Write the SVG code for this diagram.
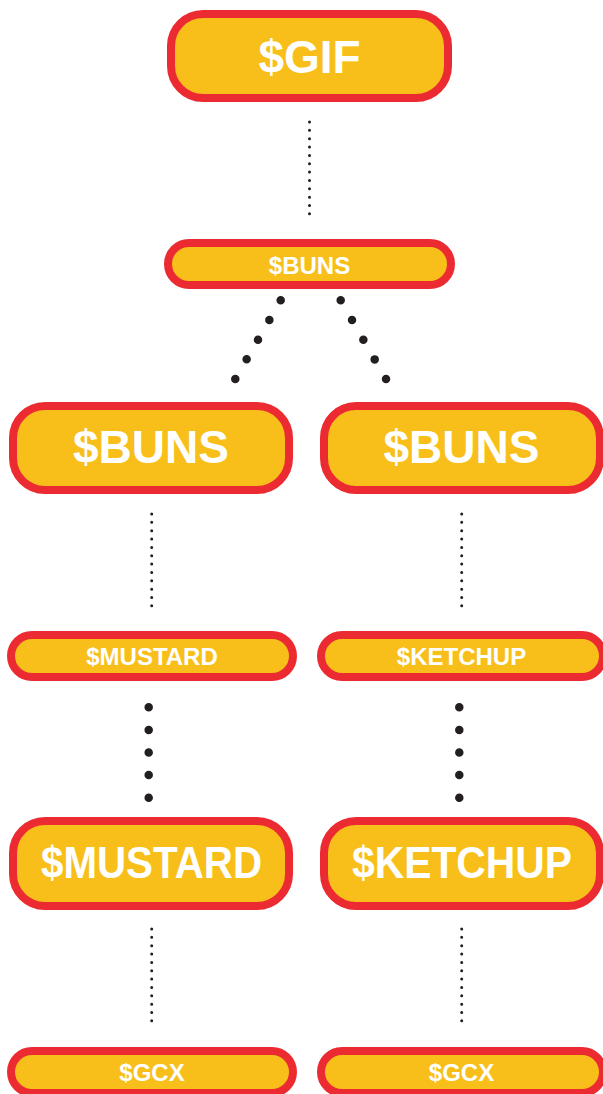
<svg xmlns="http://www.w3.org/2000/svg" width="603" height="1094" viewBox="0 0 603 1094">
<style>
.box{fill:#F8BF1A;stroke:#EC2A32;stroke-width:8}
.t{fill:#ffffff;font-family:"Liberation Sans",Arial,sans-serif;font-weight:bold;text-anchor:middle}
.big{font-size:46px}
.sm{font-size:24px}
.fine{stroke:#231F20;stroke-width:3;stroke-linecap:round;stroke-dasharray:0 8.35;fill:none}
.bold{stroke:#231F20;stroke-width:8.5;stroke-linecap:round;fill:none}
</style>
<rect width="603" height="1094" fill="#ffffff"/>
<g id="connectors">
<line class="fine" x1="309.5" y1="122" x2="309.5" y2="214"/>
<line class="bold" x1="280.7" y1="300.3" x2="234.8" y2="379.9" stroke-dasharray="0 22.72"/>
<line class="bold" x1="340.7" y1="300.3" x2="386.5" y2="379.9" stroke-dasharray="0 22.72"/>
<line class="fine" x1="151.7" y1="514" x2="151.7" y2="606"/>
<line class="fine" x1="461.7" y1="514" x2="461.7" y2="606"/>
<line class="bold" x1="148.7" y1="707.3" x2="148.7" y2="798.5" stroke-dasharray="0 22.6"/>
<line class="bold" x1="459.3" y1="707.3" x2="459.3" y2="798.5" stroke-dasharray="0 22.6"/>
<line class="fine" x1="151.7" y1="929" x2="151.7" y2="1022"/>
<line class="fine" x1="461.7" y1="929" x2="461.7" y2="1022"/>
</g>
<g id="gif">
<rect class="box" x="171" y="14" width="277" height="84" rx="32"/>
<text class="t big" x="309.5" y="73">$GIF</text>
</g>
<g id="buns-small">
<rect class="box" x="168" y="243" width="283" height="42" rx="21"/>
<text class="t sm" x="309.5" y="273.5">$BUNS</text>
</g>
<g id="buns-left">
<rect class="box" x="13" y="406" width="276" height="84" rx="32"/>
<text class="t big" x="151" y="463">$BUNS</text>
</g>
<g id="buns-right">
<rect class="box" x="324" y="406" width="276" height="84" rx="32"/>
<text class="t big" x="461.5" y="463">$BUNS</text>
</g>
<g id="mustard-small">
<rect class="box" x="11" y="635" width="282" height="42" rx="21"/>
<text class="t sm" x="152" y="665">$MUSTARD</text>
</g>
<g id="ketchup-small">
<rect class="box" x="321" y="635" width="282" height="42" rx="21"/>
<text class="t sm" x="461.5" y="665">$KETCHUP</text>
</g>
<g id="mustard-big">
<rect class="box" x="13" y="821" width="276" height="85" rx="32"/>
<text class="t" x="151.5" y="878" font-size="44" textLength="221" lengthAdjust="spacingAndGlyphs">$MUSTARD</text>
</g>
<g id="ketchup-big">
<rect class="box" x="324" y="821" width="276" height="85" rx="32"/>
<text class="t" x="462" y="878" font-size="44" textLength="220" lengthAdjust="spacingAndGlyphs">$KETCHUP</text>
</g>
<g id="gcx-left">
<rect class="box" x="11" y="1051" width="282" height="42" rx="21"/>
<text class="t sm" x="152" y="1081">$GCX</text>
</g>
<g id="gcx-right">
<rect class="box" x="321" y="1051" width="282" height="42" rx="21"/>
<text class="t sm" x="461.5" y="1081">$GCX</text>
</g>
</svg>
